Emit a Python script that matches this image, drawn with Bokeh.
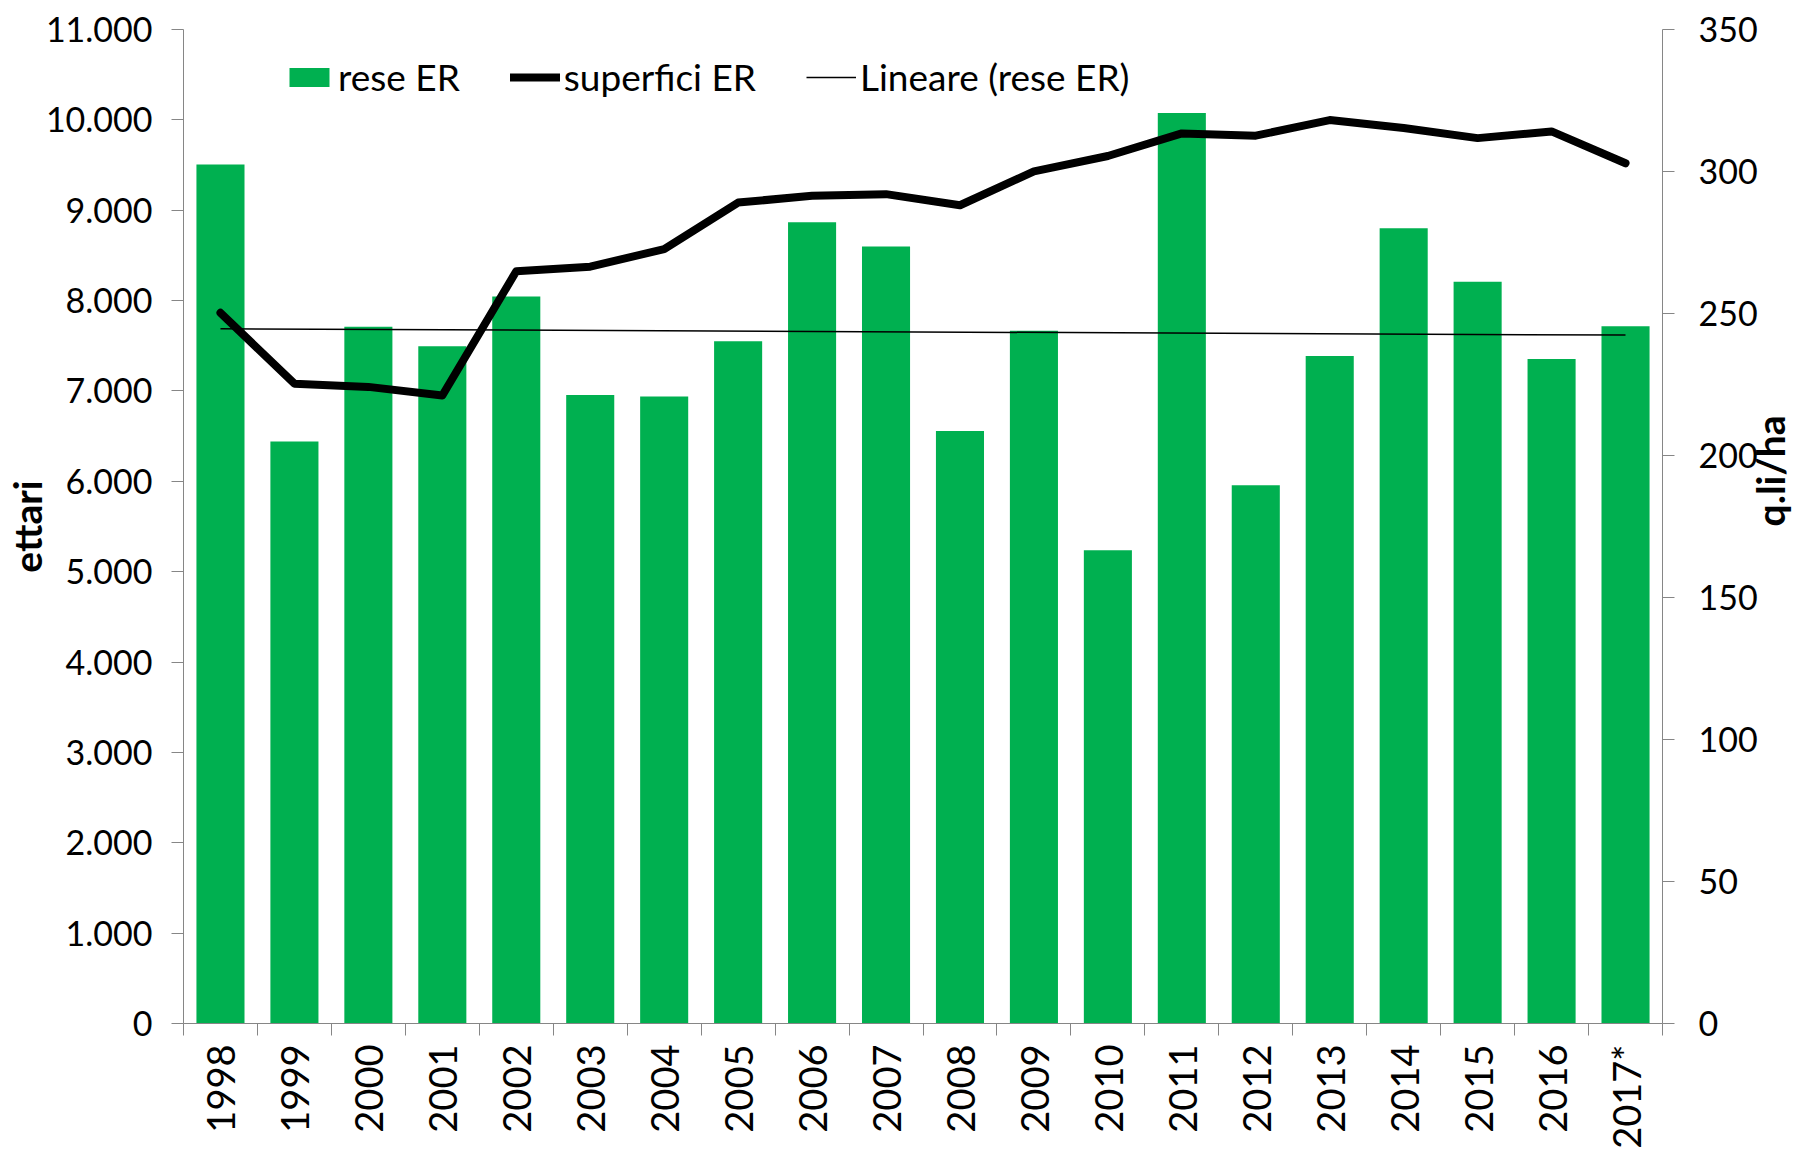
import math
from bokeh.plotting import figure
from bokeh.models import Range1d, LinearAxis, FixedTicker, Legend, LegendItem
from bokeh.embed import file_html
from bokeh.resources import INLINE

# ---- data ----
years = ["1998", "1999", "2000", "2001", "2002", "2003", "2004", "2005", "2006", "2007",
         "2008", "2009", "2010", "2011", "2012", "2013", "2014", "2015", "2016", "2017*"]
# rese ER (q.li/ha), right axis
rese = [302.5, 204.9, 245.3, 238.5, 256.0, 221.3, 220.8, 240.2, 282.1, 273.6,
        208.6, 243.9, 166.6, 320.6, 189.5, 235.0, 280.0, 261.2, 234.0, 245.5]
# superfici ER (ettari), left axis
superfici = [7865, 7080, 7045, 6950, 8325, 8375, 8570, 9085, 9160, 9178,
             9055, 9430, 9600, 9850, 9825, 9998, 9910, 9798, 9872, 9520]
# Lineare (rese ER): trend line endpoints (q.li/ha)
trend_rese = [244.6, 242.4]

left_ticks = list(range(0, 11001, 1000))
left_labels = {t: f"{t:,}".replace(",", ".") for t in left_ticks}
right_ticks = list(range(0, 351, 50))

FONT = "Lato"
AX = "#868686"
idx = list(range(len(years)))

p = figure(width=1818, height=1151, output_backend="svg", toolbar_location=None,
           x_range=Range1d(-0.5, len(years) - 0.5), y_range=Range1d(0, 11000),
           min_border_left=182, min_border_right=154, min_border_top=29,
           min_border_bottom=126)
p.extra_y_ranges = {"rese": Range1d(0, 350)}
p.outline_line_color = None
p.xgrid.visible = False
p.ygrid.visible = False
p.background_fill_color = "white"

bars = p.vbar(x=idx, top=rese, width=0.65, bottom=0, y_range_name="rese",
              fill_color="#00B050", line_color=None)
trend = p.line(x=[idx[0], idx[-1]], y=trend_rese, y_range_name="rese",
               line_color="black", line_width=1.5)
sup = p.line(x=idx, y=superfici, line_color="black", line_width=8,
             line_join="round", line_cap="round")

# x axis
xa = p.xaxis[0]
xa.ticker = FixedTicker(ticks=idx, minor_ticks=[i - 0.5 for i in range(len(years) + 1)])
xa.major_label_overrides = {i: y for i, y in enumerate(years)}
xa.major_label_orientation = math.pi / 2
xa.major_tick_out = 0
xa.major_tick_in = 0
xa.minor_tick_out = 12
xa.minor_tick_in = 0
xa.minor_tick_line_color = AX
xa.axis_line_color = AX
xa.major_label_standoff = 9
xa.major_label_text_font = FONT
xa.major_label_text_font_size = "38px"
xa.major_label_text_color = "black"

# left axis
ya = p.yaxis[0]
ya.ticker = FixedTicker(ticks=left_ticks)
ya.major_label_overrides = left_labels
ya.major_tick_out = 12
ya.major_tick_in = 0
ya.minor_tick_out = 0
ya.minor_tick_in = 0
ya.axis_line_color = AX
ya.major_tick_line_color = AX
ya.major_label_standoff = 19
ya.major_label_text_font = FONT
ya.major_label_text_font_size = "34px"
ya.major_label_text_color = "black"
ya.axis_label = "ettari"
ya.axis_label_text_font = FONT
ya.axis_label_text_font_style = "bold"
ya.axis_label_text_font_size = "39px"
ya.axis_label_text_color = "black"
ya.axis_label_text_line_height = 0.8
ya.axis_label_standoff = -7

# right axis
ra = LinearAxis(y_range_name="rese", ticker=FixedTicker(ticks=right_ticks))
ra.major_tick_out = 12
ra.major_tick_in = 0
ra.minor_tick_out = 0
ra.minor_tick_in = 0
ra.axis_line_color = AX
ra.major_tick_line_color = AX
ra.major_label_standoff = 24
ra.major_label_text_font = FONT
ra.major_label_text_font_size = "34px"
ra.major_label_text_color = "black"
ra.axis_label = "q.li/ha"
ra.axis_label_text_font = FONT
ra.axis_label_text_font_style = "bold"
ra.axis_label_text_font_size = "39px"
ra.axis_label_text_color = "black"
ra.axis_label_text_line_height = 0.8
ra.axis_label_standoff = 9
if "axis_label_orientation" in ra.properties():
    ra.axis_label_orientation = math.pi / 2  # read bottom-to-top, as in the original
    if "axis_label_text_baseline" in ra.properties():
        ra.axis_label_text_baseline = "top"
p.add_layout(ra, "right")

legend = Legend(items=[LegendItem(label="rese ER", renderers=[bars]),
                       LegendItem(label="superfici ER", renderers=[sup]),
                       LegendItem(label="Lineare (rese ER)", renderers=[trend])],
                orientation="horizontal", location=(101, 924),
                glyph_width=50, glyph_height=24, label_standoff=4, spacing=50,
                padding=0, margin=0, border_line_color=None, background_fill_alpha=0,
                label_text_font=FONT, label_text_font_size="37px",
                label_text_color="black")
p.add_layout(legend, "center")

open("out.html", "w").write(file_html(p, INLINE))
